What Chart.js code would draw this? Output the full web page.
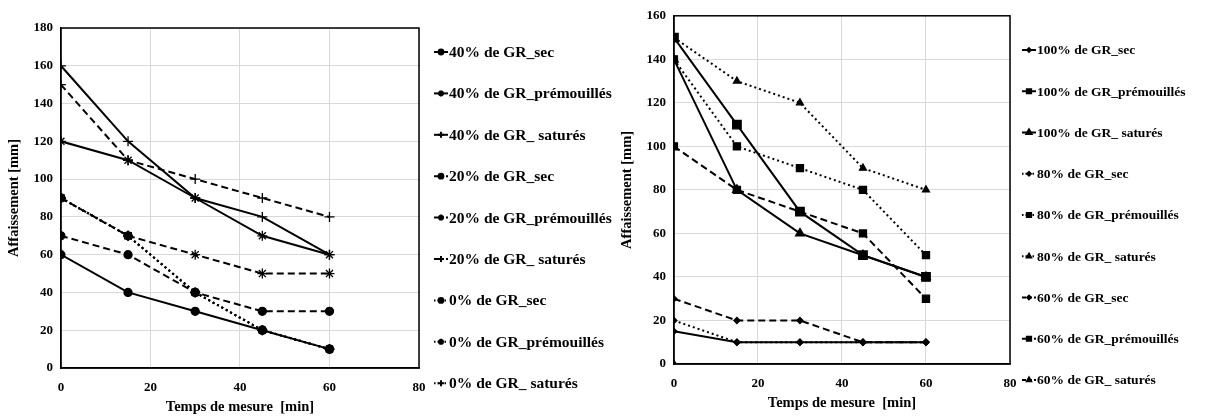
<!DOCTYPE html>
<html>
<head>
<meta charset="utf-8">
<script src="https://cdn.jsdelivr.net/npm/chart.js@4/dist/chart.umd.min.js"></script>
<style>
  body { margin: 0; background: #fff; width: 1206px; height: 416px; position: relative; overflow: hidden; }
  .box { position: absolute; top: 0; height: 416px; }
  #leftBox { left: 0; width: 630px; }
  #rightBox { left: 613px; width: 593px; }
</style>
</head>
<body>
<div class="box" id="leftBox"><canvas id="chartLeft"></canvas></div>
<div class="box" id="rightBox"><canvas id="chartRight"></canvas></div>
<script>
// time points (min)
const times = [0, 15, 30, 45, 60];

// left chart : 40%, 20%, 0% de GR
const gr40Sec = [60, 40, 30, 20, 10];
const gr40Premouilles = [120, 110, 90, 70, 60];
const gr40Satures = [160, 120, 90, 80, 60];
const gr20Sec = [70, 60, 40, 30, 30];
const gr20Premouilles = [90, 70, 60, 50, 50];
const gr20Satures = [150, 110, 100, 90, 80];
const gr0Sec = [90, 70, 40, 20, 10];
const gr0Premouilles = [90, 70, 40, 20, 10];
const gr0Satures = [90, 70, 40, 20, 10];

// right chart : 100%, 80%, 60% de GR
const gr100Sec = [15, 10, 10, 10, 10];
const gr100Premouilles = [150, 110, 70, 50, 40];
const gr100Satures = [140, 80, 60, 50, 40];
const gr80Sec = [20, 10, 10, 10, 10];
const gr80Premouilles = [140, 100, 90, 80, 50];
const gr80Satures = [150, 130, 120, 90, 80];
const gr60Sec = [30, 20, 20, 10, 10];
const gr60Premouilles = [100, 80, 70, 60, 30];
const gr60Satures = [0, null, null, null, null];

const xTicks = [0, 20, 40, 60, 80];

const SOLID = [];
const DASH = [7, 4];
const DOT = [2, 3];
const serif = "'Liberation Serif', 'DejaVu Serif', serif";

function toPoints(values) {
  return times.map((t, i) => ({ x: t, y: values[i] }));
}

function series(label, values, dash, pointStyle, radius) {
  return {
    label: label,
    data: toPoints(values),
    borderColor: '#000',
    backgroundColor: '#000',
    borderWidth: 2,
    borderDash: dash,
    pointStyle: pointStyle,
    pointRadius: radius,
    pointBorderWidth: 1.3,
    pointBorderColor: '#000',
    pointBackgroundColor: '#000',
    spanGaps: false,
    tension: 0
  };
}

// frame round the plot area
const frame = {
  id: 'frame',
  beforeDatasetsDraw(chart) {
    const a = chart.chartArea;
    const g = chart.ctx;
    g.save();
    g.strokeStyle = '#000';
    g.lineWidth = 1.5;
    g.strokeRect(a.left, a.top, a.right - a.left, a.bottom - a.top);
    g.restore();
  }
};

// legend in a single column right of the plot, one row per dataset
const sideLegend = {
  id: 'sideLegend',
  afterDraw(chart, args, opts) {
    const g = chart.ctx;
    const x0 = chart.chartArea.right + opts.offset;
    g.save();
    g.font = 'bold ' + opts.fontSize + 'px ' + serif;
    g.textBaseline = 'middle';
    g.fillStyle = '#000';
    chart.data.datasets.forEach((ds, i) => {
      const y = opts.top + i * opts.step;
      g.strokeStyle = '#000';
      g.lineWidth = 2;
      g.setLineDash(ds.borderDash === DOT ? [1.5, 2] : ds.borderDash === DASH ? [4, 2] : []);
      g.beginPath(); g.moveTo(x0, y); g.lineTo(x0 + opts.sample, y); g.stroke();
      g.setLineDash([]);
      Chart.helpers.drawPoint(g, { pointStyle: ds.pointStyle, radius: Math.min(ds.pointRadius * 0.6, 3), borderWidth: 1.2 }, x0 + opts.sample / 2, y);
      g.fill();
      g.fillText(ds.label, x0 + opts.sample + 1, y + 1);
    });
    g.restore();
  }
};

function makeChart(id, datasets, yMax, pad, legendOpts) {
  return new Chart(document.getElementById(id), {
    type: 'line',
    data: { datasets: datasets },
    plugins: [frame, sideLegend],
    options: {
      responsive: true,
      maintainAspectRatio: false,
      animation: false,
      layout: { padding: pad },
      plugins: {
        tooltip: { enabled: false },
        legend: { display: false },
        sideLegend: legendOpts
      },
      scales: {
        x: {
          type: 'linear',
          min: 0, max: 80,
          afterBuildTicks: axis => { axis.ticks = xTicks.map(v => ({ value: v })); },
          grid: { color: '#d9d9d9', lineWidth: 1, drawTicks: false },
          border: { color: '#000', width: 1.5 },
          ticks: { color: '#000', padding: 12, font: { family: serif, size: 13, weight: 'bold' } },
          title: { display: true, text: 'Temps de mesure  [min]', color: '#000', padding: { top: -9, bottom: 0 },
                   font: { family: serif, size: 14.5, weight: 'bold' } }
        },
        y: {
          min: 0, max: yMax,
          ticks: { stepSize: 20, color: '#000', padding: 8, font: { family: serif, size: 13, weight: 'bold' } },
          grid: { color: '#d9d9d9', lineWidth: 1, drawTicks: false },
          border: { color: '#000', width: 1.5 },
          title: { display: true, text: 'Affaissement [mm]', color: '#000', padding: { top: 5, bottom: 2 },
                   font: { family: serif, size: 14.5, weight: 'bold' } }
        }
      }
    }
  });
}

makeChart('chartLeft', [
  series('40% de GR_sec', gr40Sec, SOLID, 'circle', 4),
  series('40% de GR_prémouillés', gr40Premouilles, SOLID, 'star', 5),
  series('40% de GR_ saturés', gr40Satures, SOLID, 'cross', 5),
  series('20% de GR_sec', gr20Sec, DASH, 'circle', 4),
  series('20% de GR_prémouillés', gr20Premouilles, DASH, 'star', 5),
  series('20% de GR_ saturés', gr20Satures, DASH, 'cross', 5),
  series('0% de GR_sec', gr0Sec, DOT, 'circle', 4),
  series('0% de GR_prémouillés', gr0Premouilles, DOT, 'star', 5),
  series('0% de GR_ saturés', gr0Satures, DOT, 'cross', 5)
], 180, { top: 28, right: 211, bottom: 0, left: 1 },
   { offset: 15, sample: 14, top: 52, step: 41.4, fontSize: 15.5 });

makeChart('chartRight', [
  series('100% de GR_sec', gr100Sec, SOLID, 'rectRot', 3),
  series('100% de GR_prémouillés', gr100Premouilles, SOLID, 'rect', 6),
  series('100% de GR_ saturés', gr100Satures, SOLID, 'triangle', 5),
  series('80% de GR_sec', gr80Sec, DOT, 'rectRot', 3),
  series('80% de GR_prémouillés', gr80Premouilles, DOT, 'rect', 5),
  series('80% de GR_ saturés', gr80Satures, DOT, 'triangle', 4),
  series('60% de GR_sec', gr60Sec, DASH, 'rectRot', 3),
  series('60% de GR_prémouillés', gr60Premouilles, DASH, 'rect', 5),
  series('60% de GR_ saturés', gr60Satures, DASH, 'triangle', 4)
], 160, { top: 8, right: 196, bottom: 4, left: 1 },
   { offset: 12, sample: 14, top: 50, step: 41.25, fontSize: 13.5 });
</script>
</body>
</html>
